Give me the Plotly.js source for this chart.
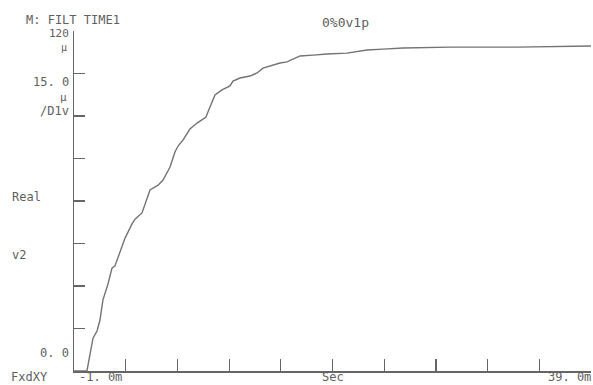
<!DOCTYPE html>
<html>
<head>
<meta charset="utf-8">
<script src="https://cdn.plot.ly/plotly-3.0.1.min.js"></script>
<style>html,body{margin:0;padding:0;background:#fff;}#chart{width:593px;height:385px;}</style>
</head>
<body>
<div id="chart"></div>
<script>
// time in ms
const timeMs = [-1.0, 0.0, 0.47, 0.78, 1.01, 1.24, 1.63, 1.94, 2.17, 2.56, 2.95, 3.49, 3.72, 4.26, 4.49, 4.88, 5.50, 5.89, 6.43, 6.81, 7.05, 7.43, 7.97, 8.52, 8.98, 9.21, 9.52, 9.91, 10.45, 11.07, 11.30, 11.84, 12.62, 13.16, 13.62, 14.32, 14.94, 15.48, 15.94, 16.49, 17.49, 18.57, 20.12, 21.67, 22.91, 24.46, 28.09, 33.28, 39.0];
// value in micro V^2
const valueMicro = [0, 0, 11.6, 14.1, 18.0, 25.1, 30.7, 36.3, 37.1, 42.0, 46.9, 51.9, 53.6, 55.8, 58.6, 63.9, 65.6, 67.4, 72.0, 77.3, 79.4, 81.5, 85.4, 87.5, 88.9, 89.6, 93.2, 97.4, 99.2, 100.6, 102.3, 103.4, 104.1, 105.2, 106.9, 108.0, 108.7, 109.1, 110.1, 111.2, 111.5, 111.9, 112.2, 113.3, 113.6, 114.0, 114.3, 114.3, 114.7];

const xTickVals = [-1, 3, 7, 11, 15, 19, 23, 27, 31, 35, 39];
const yTickVals = [0, 15, 30, 45, 60, 75, 90, 105, 120];

const headerLeft = "M: FILT TIME1";
const headerRight = "0%0v1p";
const yTopLabel = "120";
const yScaleLabel = "15. 0";
const yUnitMu = "\u03bc";
const yPerDiv = "/D1v";
const yFormat = "Real";
const yUnit = "v2";
const yBottomLabel = "0. 0";
const xMode = "FxdXY";
const xStartLabel = "-1. 0m";
const xUnit = "Sec";
const xEndLabel = "39. 0m";

const W = 593, H = 385, L = 74, R = 2, T = 31, B = 14;
const pw = W - L - R, ph = H - T - B;
function px(x){ return (x - L) / pw; }
function py(y){ return (H - B - y) / ph; }

const txtColor = "#606060";
function ann(text, x, y, xanchor, yanchor, size){
  return {text: text, xref: "paper", yref: "paper", x: px(x), y: py(y),
          xanchor: xanchor, yanchor: yanchor || "middle", showarrow: false, borderpad: 0,
          font: {family: "DejaVu Sans Mono, monospace", size: size || 12, color: txtColor}};
}

const annotations = [
  ann(headerLeft, 25, 20, "left", "middle", 12),
  ann(headerRight, 321, 22, "left", "middle", 13),
  ann(yTopLabel, 70, 41, "right", "bottom", 11),
  ann(yUnitMu, 68, 41, "right", "top", 10),
  ann(yScaleLabel, 70, 90, "right", "bottom", 12),
  ann(yUnitMu, 68, 90, "right", "top", 11),
  ann(yPerDiv, 70, 103, "right", "top", 12),
  ann(yFormat, 11, 197, "left", "middle", 12),
  ann(yUnit, 11, 255, "left", "middle", 12),
  ann(yBottomLabel, 70, 353, "right", "middle", 12),
  ann(xMode, 10, 385, "left", "bottom", 12),
  ann(xStartLabel, 78, 385, "left", "bottom", 12),
  ann(xUnit, 333, 385, "center", "bottom", 12),
  ann(xEndLabel, 592, 385, "right", "bottom", 12)
];

const trace = {
  x: timeMs, y: valueMicro, type: "scatter", mode: "lines",
  line: {color: "#737373", width: 1.4}, hoverinfo: "none"
};

const layout = {
  width: W, height: H,
  margin: {l: L, r: R, t: T, b: B, pad: 0},
  paper_bgcolor: "#ffffff", plot_bgcolor: "#ffffff",
  showlegend: false,
  xaxis: {range: [-1, 39], tickmode: "array", tickvals: xTickVals, ticks: "inside",
          ticklen: 12, tickwidth: 1.2, tickcolor: "#666", showticklabels: false,
          showgrid: false, zeroline: false, showline: true, linecolor: "#666", linewidth: 1.5,
          fixedrange: true},
  yaxis: {range: [0, 120], tickmode: "array", tickvals: yTickVals, ticks: "inside",
          ticklen: 11, tickwidth: 1.2, tickcolor: "#666", showticklabels: false,
          showgrid: false, zeroline: false, showline: true, linecolor: "#666", linewidth: 1.5,
          fixedrange: true},
  annotations: annotations
};

Plotly.newPlot("chart", [trace], layout, {staticPlot: true, displayModeBar: false});
</script>
</body>
</html>
